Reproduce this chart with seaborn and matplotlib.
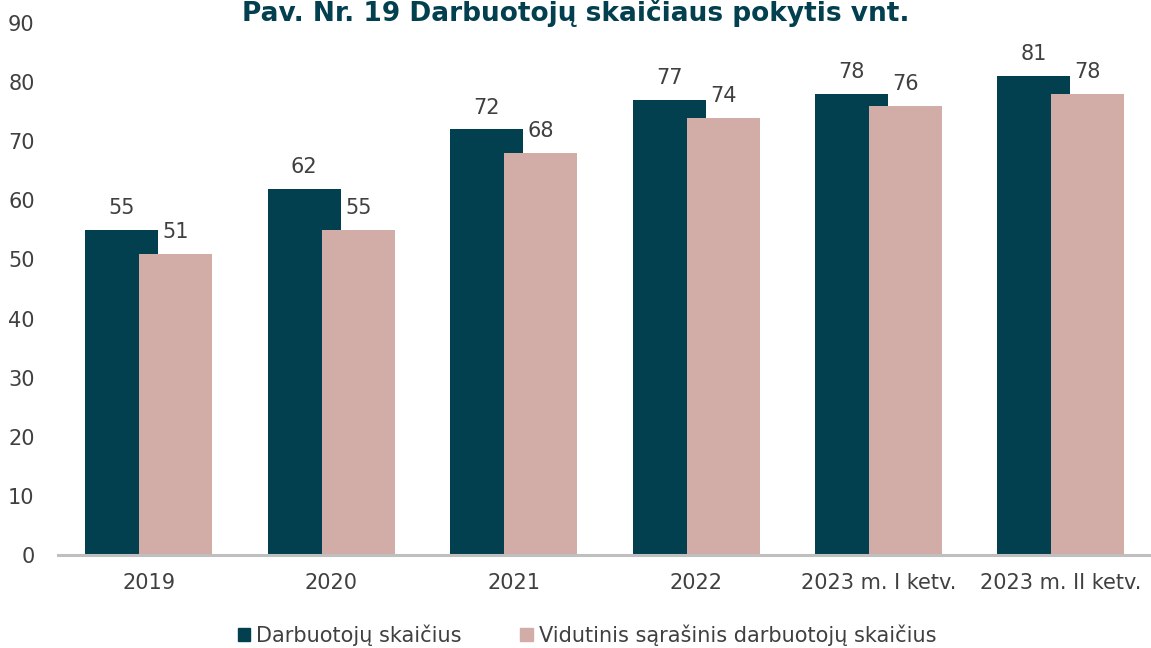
import numpy as np
import pandas as pd
import seaborn as sns
import matplotlib.pyplot as plt

categories = ["2019", "2020", "2021", "2022", "2023 m. I ketv.", "2023 m. II ketv."]
employees = [55, 62, 72, 77, 78, 81]
avg_listed = [51, 55, 68, 74, 76, 78]
series_names = ["Darbuotojų skaičius", "Vidutinis sąrašinis darbuotojų skaičius"]
title = "Pav. Nr. 19 Darbuotojų skaičiaus pokytis vnt."

dark = "#023F4F"
pink = "#D2ACA6"
text_col = "#404040"

df = pd.DataFrame({
    "cat": categories * 2,
    "value": employees + avg_listed,
    "series": [series_names[0]] * len(categories) + [series_names[1]] * len(categories),
})

sns.set_style("white")
plt.rcParams["font.family"] = ["DejaVu Sans"]

fig = plt.figure(figsize=(11.51, 6.48), dpi=100)
ax = fig.add_axes([0.05, 0.1435, 0.951, 0.821])

sns.barplot(data=df, x="cat", y="value", hue="series", order=categories,
            hue_order=series_names, palette=[dark, pink], width=0.592,
            dodge=True, saturation=1, legend=False, ax=ax)

# widen bars so they overlap like the excel chart
bar_w = 0.40
for p in ax.patches:
    c = p.get_x() + p.get_width() / 2
    p.set_x(c - bar_w / 2)
    p.set_width(bar_w)
    p.set_edgecolor("none")

for p in ax.patches:
    h = p.get_height()
    ax.text(p.get_x() + p.get_width() / 2, h + 2.0, f"{h:.0f}",
            ha="center", va="bottom", fontsize=15, color=text_col)

ax.set_ylim(0, 90)
ax.set_xlim(-0.5, len(categories) - 0.5)
ax.set_yticks(np.arange(0, 91, 10))
ax.set_xlabel("")
ax.set_ylabel("")
ax.tick_params(axis="both", length=0, labelsize=15, labelcolor=text_col)
ax.tick_params(axis="x", pad=13)
ax.tick_params(axis="y", pad=16.5)
for s in ["top", "right", "left"]:
    ax.spines[s].set_visible(False)
ax.spines["bottom"].set_color("#BFBFBF")
ax.spines["bottom"].set_linewidth(2.2)

# title sits right at the top edge, as in the source figure
fig.text(0.5, 0.9675, title, ha="center", va="baseline", fontsize=19,
         fontweight="bold", color=dark)

handles = [plt.Rectangle((0, 0), 1, 1, color=dark), plt.Rectangle((0, 0), 1, 1, color=pink)]
fig.legend(handles, series_names, loc="center", bbox_to_anchor=(0.51, 0.02),
           ncol=2, frameon=False, fontsize=15, labelcolor=text_col,
           handlelength=0.6, handleheight=0.6, handletextpad=0.3, columnspacing=2.8)

fig.savefig("out.png", dpi=100)
